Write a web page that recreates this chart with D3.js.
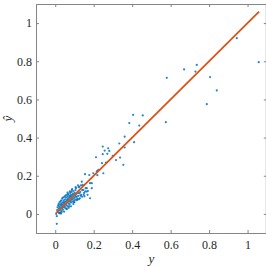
<!DOCTYPE html>
<html><head><meta charset="utf-8">
<script src="https://cdn.jsdelivr.net/npm/d3@7"></script>
<style>body{margin:0;background:#fff}svg{display:block}</style>
</head><body>
<svg id="c" width="266" height="267"></svg>
<script>
const xTicks = [0, 0.2, 0.4, 0.6, 0.8, 1];
const yTicks = [0, 0.2, 0.4, 0.6, 0.8, 1];
const xDomain = [-0.1, 1.1];
const yDomain = [-0.1, 1.1];
const fitLine = [0.004, 1.06];
// true values (y) and predictions (y-hat)
const yTrue = [
0.944,1.058,0.736,0.670,0.729,0.580,0.805,0.840,0.788,0.405,0.455,0.385,0.437,0.575,0.361,0.333,0.410,
0.247,0.275,0.361,0.257,0.281,0.247,0.271,0.299,0.212,0.337,0.316,0.243,0.264,0.354,0.219,0.250,0.219,0.008,
0.010,0.012,0.015,0.015,0.018,0.020,0.020,0.022,0.024,0.025,0.026,0.028,0.030,0.030,0.032,0.033,0.035,0.035,
0.036,0.038,0.040,0.040,0.042,0.043,0.045,0.045,0.047,0.048,0.050,0.050,0.052,0.053,0.055,0.055,0.057,0.058,
0.060,0.060,0.062,0.063,0.065,0.065,0.067,0.068,0.070,0.070,0.072,0.074,0.075,0.075,0.077,0.078,0.080,0.080,
0.082,0.083,0.085,0.085,0.087,0.088,0.090,0.090,0.092,0.094,0.095,0.097,0.098,0.100,0.100,0.103,0.105,0.105,
0.108,0.110,0.112,0.115,0.118,0.120,0.122,0.125,0.128,0.130,0.135,0.138,0.140,0.143,0.146,0.150,0.155,0.158,
0.164,0.164,0.170,0.177,0.181,0.181,0.190,0.190,0.198,0.216,0.224,0.008,0.025,0.005,0.030,
0.018,0.024,0.028,0.034,0.040,0.046,0.052,0.058,0.064,0.070,0.076,0.082,0.088,0.094,0.100,0.106,0.112,0.118,
0.124,0.132,0.140,0.148,0.156,0.168,0.060,0.066,0.072,0.086,0.096,0.108,0.116,0.126,0.134,0.152];
const yPred = [
0.921,0.795,0.781,0.757,0.746,0.713,0.717,0.647,0.575,0.519,0.516,0.476,0.463,0.481,0.405,0.369,0.376,
0.353,0.344,0.348,0.332,0.330,0.313,0.315,0.304,0.297,0.295,0.282,0.266,0.269,0.257,0.225,0.213,0.203,-0.052,
0.020,0.035,0.010,0.045,0.028,0.005,0.040,0.060,0.018,0.032,0.050,0.025,0.042,0.070,0.015,0.055,0.030,0.048,
0.080,0.038,0.022,0.060,0.045,0.070,0.035,0.055,0.090,0.062,0.040,0.075,0.050,0.030,0.065,0.085,0.055,0.100,
0.045,0.072,0.060,0.090,0.040,0.078,0.068,0.105,0.055,0.085,0.075,0.095,0.050,0.065,0.088,0.110,0.070,0.098,
0.060,0.082,0.092,0.115,0.075,0.100,0.065,0.088,0.105,0.080,0.120,0.095,0.070,0.085,0.110,0.098,0.075,0.125,
0.090,0.105,0.091,0.080,0.110,0.095,0.140,0.143,0.082,0.115,0.100,0.169,0.125,0.152,0.126,0.110,0.208,0.135,
0.117,0.135,0.120,0.204,0.082,0.161,0.135,0.161,0.213,0.222,0.231,-0.012,0.005,0.000,0.002,
0.052,0.003,0.066,0.010,0.085,0.012,0.095,0.028,0.112,0.032,0.118,0.040,0.130,0.052,0.062,0.140,0.072,0.150,
0.078,0.095,0.090,0.100,0.118,0.100,0.025,0.100,0.040,0.125,0.060,0.135,0.075,0.108,0.150,0.092];

const svg = d3.select("#c");
const L = 36, R = 266.8, T = 4, B = 233;
const x = d3.scaleLinear().domain(xDomain).range([L, R]);
const y = d3.scaleLinear().domain(yDomain).range([B, T]);
const fmt = d => String(+d.toFixed(1));
const axisColor = "#858585";
const font = "'Liberation Serif', 'Times New Roman', serif";

function style(g, labels) {
  g.select(".domain").remove();
  g.selectAll(".tick line").attr("stroke", axisColor).attr("stroke-width", 1);
  g.selectAll(".tick text").attr("fill", "#262626").style("font-family", font).style("font-size", "12px");
  if (!labels) g.selectAll(".tick text").remove();
}

svg.append("g").attr("transform", `translate(0,${B})`)
  .call(d3.axisBottom(x).tickValues(xTicks).tickFormat(fmt).tickSizeInner(-3).tickSizeOuter(0).tickPadding(7))
  .call(g => style(g, true));
svg.append("g").attr("transform", `translate(0,${T})`)
  .call(d3.axisTop(x).tickValues(xTicks).tickSizeInner(-3).tickSizeOuter(0))
  .call(g => style(g, false));
svg.append("g").attr("transform", `translate(${L},0)`)
  .call(d3.axisLeft(y).tickValues(yTicks).tickFormat(fmt).tickSizeInner(-3).tickSizeOuter(0).tickPadding(4))
  .call(g => style(g, true));
svg.append("g").attr("transform", `translate(${R},0)`)
  .call(d3.axisRight(y).tickValues(yTicks).tickSizeInner(-3).tickSizeOuter(0))
  .call(g => style(g, false));

svg.append("rect").attr("x", L + 0.5).attr("y", T + 0.5).attr("width", R - L - 1).attr("height", B - T)
  .attr("fill", "none").attr("stroke", axisColor).attr("stroke-width", 1);

const pts = yTrue.map((v, i) => [v, yPred[i]]);
svg.append("g").selectAll("circle").data(pts).join("circle")
  .attr("cx", d => x(d[0])).attr("cy", d => y(d[1])).attr("r", 1.1)
  .attr("fill", "#0072BD").attr("fill-opacity", 0.85);

svg.append("line")
  .attr("x1", x(fitLine[0])).attr("y1", y(fitLine[0]))
  .attr("x2", x(fitLine[1])).attr("y2", y(fitLine[1]))
  .attr("stroke", "#D95319").attr("stroke-width", 1.8);

svg.append("text").attr("x", (L + R) / 2).attr("y", 263).attr("text-anchor", "middle")
  .style("font-family", font).style("font-size", "13px").style("font-style", "italic").attr("fill", "#262626").text("y");
svg.append("text").attr("transform", `translate(12,${(T + B) / 2}) rotate(-90)`).attr("text-anchor", "middle")
  .style("font-family", font).style("font-size", "13px").style("font-style", "italic").attr("fill", "#262626").text("ŷ");
</script>
</body></html>
